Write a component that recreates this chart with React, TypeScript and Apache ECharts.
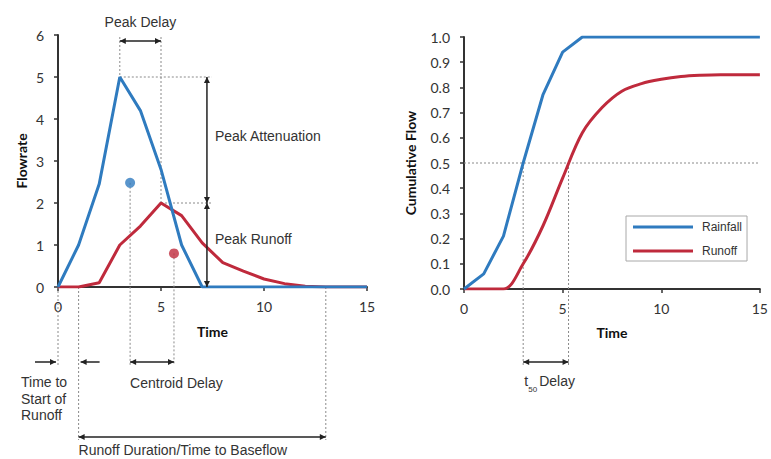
import { useEffect, useRef } from "react";
import * as echarts from "echarts";

// ---- data ----
const time = [0, 1, 2, 3, 4, 5, 6, 7, 8, 9, 10, 11, 12, 13, 14, 15];
const rainfallFlow = [0, 1, 2.45, 5, 4.2, 2.8, 1, 0, 0, 0, 0, 0, 0, 0, 0, 0];
const runoffFlow = [0, 0, 0.1, 1, 1.45, 2, 1.7, 1.05, 0.58, 0.38, 0.19, 0.08, 0.02, 0, 0, 0];
const rainfallCum = [0, 0.06, 0.21, 0.5, 0.77, 0.94, 1, 1, 1, 1, 1, 1, 1, 1, 1, 1];
const runoffCum = [0, 0, 0, 0.1, 0.25, 0.44, 0.62, 0.72, 0.785, 0.815, 0.832, 0.843, 0.848, 0.85, 0.85, 0.85];
const rainfallCentroid = [3.5, 2.48];
const runoffCentroid = [5.63, 0.8];
const flowTicks = [0, 1, 2, 3, 4, 5, 6];
const cumTicks = [0, 0.1, 0.2, 0.3, 0.4, 0.5, 0.6, 0.7, 0.8, 0.9, 1.0];
const peakRainfall = [3, 5];
const peakRunoff = [5, 2];
const startOfRunoff = 1;
const timeToBaseflow = 13;
const t50Times = [3, 5.3];
const attenuationX = 7.23;

const BLUE = "#2f7bbf";
const RED = "#bf2a3c";
const AXIS = "#333333";
const DOT = "#8a8a8a";
const INK = "#222222";
const TICK_FONT = "Lato";
const ANN_FONT = '"Liberation Sans", Arial, sans-serif';

export default function App() {
  const ref = useRef<HTMLDivElement>(null);
  useEffect(() => {
    const chart = echarts.init(ref.current!, null, { renderer: "svg" });
    const pair = (xs: number[], ys: number[]) => xs.map((x, i) => [x, ys[i]]);
    const xAxisBase = {
      type: "value",
      min: 0,
      max: 15,
      interval: 5,
      axisLine: { show: true, lineStyle: { color: AXIS, width: 2 } },
      axisTick: { show: true, length: 4, lineStyle: { color: AXIS, width: 1.5 } },
      axisLabel: { color: "#333", fontFamily: TICK_FONT, fontSize: 14, margin: 12 },
      splitLine: { show: false },
      name: "Time",
      nameLocation: "middle",
      nameTextStyle: { color: "#111", fontFamily: TICK_FONT, fontSize: 14, fontWeight: "bold" },
    };
    chart.setOption({
      animation: false,
      backgroundColor: "#ffffff",
      grid: [
        { left: 58, top: 35, width: 309, height: 252 },
        { left: 464, top: 37, width: 299, height: 252 },
      ],
      xAxis: [
        { ...xAxisBase, gridIndex: 0, nameGap: 37 },
        { ...xAxisBase, gridIndex: 1, nameGap: 36 },
      ],
      yAxis: [
        {
          type: "value",
          gridIndex: 0,
          min: flowTicks[0],
          max: flowTicks[flowTicks.length - 1],
          interval: 1,
          axisLine: { show: true, lineStyle: { color: AXIS, width: 2 } },
          axisTick: { show: true, length: 4, lineStyle: { color: AXIS, width: 1.5 } },
          axisLabel: { color: "#333", fontFamily: TICK_FONT, fontSize: 14, margin: 14 },
          splitLine: { show: false },
          name: "Flowrate",
          nameLocation: "middle",
          nameGap: 30,
          nameTextStyle: { color: "#111", fontFamily: TICK_FONT, fontSize: 14, fontWeight: "bold" },
        },
        {
          type: "value",
          gridIndex: 1,
          min: cumTicks[0],
          max: cumTicks[cumTicks.length - 1],
          interval: 0.1,
          axisLine: { show: true, lineStyle: { color: AXIS, width: 2 } },
          axisTick: { show: true, length: 4, lineStyle: { color: AXIS, width: 1.5 } },
          axisLabel: {
            color: "#333",
            fontFamily: TICK_FONT,
            fontSize: 14,
            margin: 14,
            formatter: (v: number) => v.toFixed(1),
          },
          splitLine: { show: false },
          name: "Cumulative Flow",
          nameLocation: "middle",
          nameGap: 47,
          nameTextStyle: { color: "#111", fontFamily: TICK_FONT, fontSize: 14, fontWeight: "bold" },
        },
      ],
      legend: {
        data: ["Rainfall", "Runoff"],
        orient: "vertical",
        left: 626,
        top: 216,
        padding: [4, 5, 3, 7],
        itemGap: 10,
        icon: "rect",
        itemWidth: 60,
        itemHeight: 3,
        borderColor: "#a8a8a8",
        borderWidth: 1,
        textStyle: {
          color: "#333",
          fontFamily: ANN_FONT,
          fontSize: 12,
          lineHeight: 14,
          padding: [0, 0, 0, 4],
        },
      },
      series: [
        {
          type: "line",
          name: "Runoff",
          xAxisIndex: 0,
          yAxisIndex: 0,
          data: pair(time, runoffFlow),
          showSymbol: false,
          lineStyle: { color: RED, width: 3 },
          itemStyle: { color: RED },
          z: 3,
        },
        {
          type: "line",
          name: "Rainfall",
          xAxisIndex: 0,
          yAxisIndex: 0,
          data: pair(time, rainfallFlow),
          showSymbol: false,
          lineStyle: { color: BLUE, width: 3 },
          itemStyle: { color: BLUE },
          z: 4,
        },
        {
          type: "scatter",
          name: "Rainfall centroid",
          xAxisIndex: 0,
          yAxisIndex: 0,
          data: [rainfallCentroid],
          symbolSize: 10,
          itemStyle: { color: BLUE },
          z: 5,
        },
        {
          type: "scatter",
          name: "Runoff centroid",
          xAxisIndex: 0,
          yAxisIndex: 0,
          data: [runoffCentroid],
          symbolSize: 10,
          itemStyle: { color: RED },
          z: 5,
        },
        {
          type: "line",
          name: "Rainfall",
          xAxisIndex: 1,
          yAxisIndex: 1,
          data: pair(time, rainfallCum),
          showSymbol: false,
          lineStyle: { color: BLUE, width: 3 },
          itemStyle: { color: BLUE },
          z: 4,
        },
        {
          type: "line",
          name: "Runoff",
          xAxisIndex: 1,
          yAxisIndex: 1,
          data: pair(time, runoffCum),
          showSymbol: false,
          smooth: 0.35,
          lineStyle: { color: RED, width: 3 },
          itemStyle: { color: RED },
          z: 3,
        },
      ],
    });

    const L = (x: number, y: number) => chart.convertToPixel({ xAxisIndex: 0, yAxisIndex: 0 }, [x, y]) as number[];
    const R = (x: number, y: number) => chart.convertToPixel({ xAxisIndex: 1, yAxisIndex: 1 }, [x, y]) as number[];

    const els: any[] = [];
    const dotted = (x1: number, y1: number, x2: number, y2: number) =>
      els.push({
        type: "line",
        silent: true,
        z: 2,
        shape: { x1, y1, x2, y2 },
        style: { stroke: DOT, lineWidth: 1, lineDash: [2, 2] },
      });
    const head = (x: number, y: number, dx: number, dy: number) => {
      const len = 6, hw = 3;
      const bx = x - dx * len, by = y - dy * len;
      const px = -dy * hw, py = dx * hw;
      els.push({
        type: "polygon",
        silent: true,
        z: 6,
        shape: { points: [[x, y], [bx + px, by + py], [bx - px, by - py]] },
        style: { fill: INK },
      });
    };
    const arrow = (x1: number, y1: number, x2: number, y2: number, startHead: boolean, endHead: boolean) => {
      els.push({
        type: "line",
        silent: true,
        z: 6,
        shape: { x1, y1, x2, y2 },
        style: { stroke: INK, lineWidth: 1.5 },
      });
      const d = Math.hypot(x2 - x1, y2 - y1);
      const ux = (x2 - x1) / d, uy = (y2 - y1) / d;
      if (endHead) head(x2, y2, ux, uy);
      if (startHead) head(x1, y1, -ux, -uy);
    };
    const text = (t: string, x: number, y: number, align: string, size = 14) =>
      els.push({
        type: "text",
        silent: true,
        z: 7,
        x,
        y,
        style: {
          text: t,
          fill: "#333",
          font: `${size}px ${ANN_FONT}`,
          textAlign: align,
          textVerticalAlign: "middle",
        },
      });

    // ---- left chart annotations ----
    const [p3x, p5y] = L(peakRainfall[0], peakRainfall[1]);
    const [r5x, r2y] = L(peakRunoff[0], peakRunoff[1]);
    const [ax, a0y] = L(attenuationX, 0);
    const topY = 37;
    const delayY = 41;
    dotted(p3x, topY, p3x, p5y);
    dotted(r5x, topY, r5x, r2y);
    arrow(p3x, delayY, r5x, delayY, true, true);
    text("Peak Delay", (p3x + r5x) / 2, 22, "center");
    const hEnd = ax + 5;
    dotted(p3x, p5y, hEnd, p5y);
    dotted(r5x, r2y, hEnd, r2y);
    arrow(ax, p5y, ax, r2y, true, true);
    arrow(ax, r2y, ax, a0y, true, true);
    text("Peak Attenuation", ax + 8, L(0, 3.6)[1], "left");
    text("Peak Runoff", ax + 8, L(0, 1.15)[1], "left");

    const base = a0y;
    const [c1x, c1y] = L(rainfallCentroid[0], rainfallCentroid[1]);
    const [c2x, c2y] = L(runoffCentroid[0], runoffCentroid[1]);
    dotted(c1x, c1y, c1x, base + 78);
    dotted(c2x, c2y, c2x, base + 78);
    arrow(c1x, base + 75, c2x, base + 75, true, true);
    text("Centroid Delay", c1x, base + 96, "left");

    const [x0] = L(0, 0);
    const [x1] = L(startOfRunoff, 0);
    const [x13] = L(timeToBaseflow, 0);
    dotted(x0, base, x0, base + 78);
    dotted(x1, base, x1, base + 153);
    dotted(x13, base, x13, base + 153);
    arrow(x0 - 23, base + 75, x0 - 2, base + 75, false, true);
    arrow(x1 + 21, base + 75, x1 + 2, base + 75, false, true);
    arrow(x1, base + 150, x13, base + 150, true, true);
    els.push({
      type: "text",
      silent: true,
      z: 7,
      x: 21,
      y: base + 87,
      style: {
        text: "Time to\nStart of\nRunoff",
        fill: "#333",
        font: `14px ${ANN_FONT}`,
        lineHeight: 16.5,
        textAlign: "left",
        textVerticalAlign: "top",
      },
    });
    text("Runoff Duration/Time to Baseflow", x1, base + 163, "left");

    // ---- right chart annotations ----
    const [rx0, half] = R(0, 0.5);
    const [rx15] = R(15, 0.5);
    const [ta] = R(t50Times[0], 0);
    const [tb, rbase] = R(t50Times[1], 0);
    dotted(rx0, half, rx15, half);
    dotted(ta, half, ta, rbase + 76);
    dotted(tb, half, tb, rbase + 76);
    arrow(ta, rbase + 73, tb, rbase + 73, true, true);
    text("t", ta + 1, rbase + 92, "left", 14);
    text("50", ta + 5, rbase + 100, "left", 8);
    text("Delay", ta + 16, rbase + 92, "left", 14);

    chart.setOption({ graphic: { elements: els } });
    return () => chart.dispose();
  }, []);
  return (
    <div
      ref={ref}
      style={{ position: "fixed", left: 0, top: 0, width: 771, height: 459, background: "#fff" }}
    />
  );
}
